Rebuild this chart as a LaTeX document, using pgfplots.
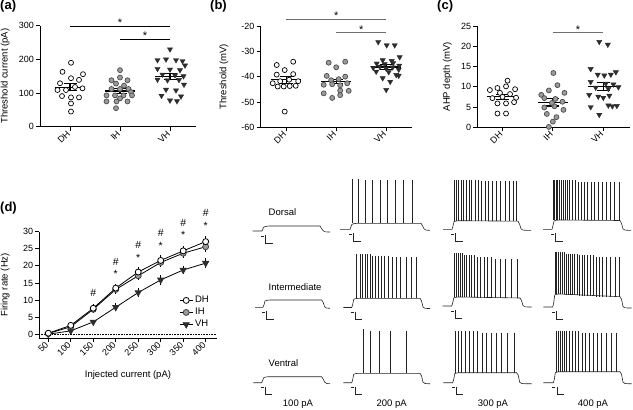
\documentclass[border=0pt]{standalone}
\usepackage{pgfplots}
\pgfplotsset{compat=1.18}
\usepackage{fontspec}
\setmainfont{Liberation Sans}
\definecolor{ihgray}{RGB}{155,155,155}
\definecolor{vhdark}{RGB}{45,45,45}
\definecolor{siggray}{RGB}{110,110,110}
\definecolor{tracecol}{RGB}{35,35,35}
\pgfplotsset{
  prism/.style={
    scale only axis,
    axis x line=bottom, axis y line=left,
    axis line style={line width=0.8pt,-},
    tick align=outside, major tick length=4pt,
    every tick/.style={line width=0.8pt,black},
    tick label style={font=\fontsize{9}{10}\selectfont, inner sep=2pt},
    label style={font=\fontsize{9.5}{11}\selectfont},
    /pgf/number format/assume math mode=true,
    clip=false,
  },
  cat/.style={xtick={0,1,2}, xticklabels={DH,IH,VH}, xticklabel style={rotate=45, anchor=east}},
  dhm/.style={only marks, mark=*, mark size=2.5pt, mark options={draw=black, fill=white, line width=0.7pt}},
  ihm/.style={only marks, mark=*, mark size=2.5pt, mark options={draw=black!70, fill=ihgray, line width=0.7pt}},
  vhm/.style={only marks, mark=triangle*, mark size=3pt, mark options={draw=vhdark, fill=vhdark, rotate=180, line width=0.4pt}},
  semline/.style={black, line width=1.1pt, unbounded coords=jump, mark=none},
  sigline/.style={line width=0.8pt, mark=none},
  spikes/.style={draw=none, mark=none, error bars/.cd, y dir=plus, y explicit, error mark=none, error bar style={draw=tracecol, line width=0.45pt}},
  steptr/.style={tracecol, line width=0.6pt, mark=none},
}
\newcommand{\sig}{\fontsize{11}{12}\selectfont *}
\begin{document}
\begin{tikzpicture}[x=1pt,y=1pt]
\useasboundingbox (0,0) rectangle (633,410);
\node[anchor=north west, inner sep=0pt, font=\fontsize{13}{14}\selectfont\bfseries] at (0,410) {(a)};
\node[anchor=north west, inner sep=0pt, font=\fontsize{13}{14}\selectfont\bfseries] at (210,410) {(b)};
\node[anchor=north west, inner sep=0pt, font=\fontsize{13}{14}\selectfont\bfseries] at (437,410) {(c)};
\node[anchor=north west, inner sep=0pt, font=\fontsize{13}{14}\selectfont\bfseries] at (0,208.3) {(d)};

% ---------------- (a)
\begin{axis}[prism, cat, at={(40pt,283.3pt)}, anchor=south west, width=156pt, height=101pt,
  xmin=-0.6, xmax=2.52, ymin=0, ymax=300, ytick={0,100,200,300},
  ylabel={Threshold current (pA)}, ylabel style={at={(axis description cs:-0.224,0.5)}, anchor=center}]
\addplot[dhm] coordinates {(0.02,190) (-0.15,163) (0.26,156) (0.02,144) (0.18,139) (-0.2,129) (0.1,118) (0.25,114) (-0.25,109) (-0.08,109) (-0.16,91) (0.02,87) (0.18,87) (0.02,69) (0.02,45)};
\addplot[ihm] coordinates {(1,168) (1,146) (0.83,138) (1.15,138) (0.92,128) (1.08,122) (0.83,112) (1.0,112) (1.17,112) (1.22,103) (0.73,93) (0.9,93) (1.07,93) (1.24,93) (1.0,84) (0.73,75) (0.93,75) (1.15,75) (0.92,55)};
\addplot[vhm] coordinates {(2.0,230) (1.75,198) (1.92,200) (2.12,198) (2.25,195) (2.30,182) (1.75,172) (2.0,170) (2.2,168) (1.85,155) (2.1,153) (2.27,150) (1.75,140) (1.95,138) (2.18,139) (2.28,125) (1.92,110) (2.12,108) (1.83,92) (2.22,90) (2.0,78) (2.14,76)};
\addplot[semline] coordinates {(-0.3,117)(0.3,117)(0,nan)(-0.13,127)(0.13,127)(0,nan)(0,127)(0,107)(0,nan)(-0.13,107)(0.13,107)};
\addplot[semline] coordinates {(0.7,106)(1.3,106)(1,nan)(0.87,114)(1.13,114)(1,nan)(1,114)(1,98)(1,nan)(0.87,98)(1.13,98)};
\addplot[semline] coordinates {(1.7,149)(2.3,149)(2,nan)(1.87,159)(2.13,159)(2,nan)(2,159)(2,139)(2,nan)(1.87,139)(2.13,139)};
\addplot[sigline, black] coordinates {(0,299)(2,299)};
\addplot[sigline, black] coordinates {(1,260)(2,260)};
\node[anchor=base, inner sep=0pt, yshift=-0.5pt] at (axis cs:1,299) {\sig};
\node[anchor=base, inner sep=0pt, yshift=-0.5pt] at (axis cs:1.5,260) {\sig};
\end{axis}

% ---------------- (b)
\begin{axis}[prism, cat, at={(260.7pt,282.7pt)}, anchor=south west, width=151pt, height=101.3pt,
  xmin=-0.51, xmax=2.51, ymin=-60, ymax=-20, ytick={-60,-50,-40,-30,-20},
  ylabel={Threshold (mV)}, ylabel style={at={(axis description cs:-0.243,0.5)}, anchor=center}]
\addplot[dhm] coordinates {(-0.19,-35.4) (0.14,-34.1) (-0.03,-37.4) (-0.19,-39.2) (0.14,-39.0) (-0.12,-41.8) (0.06,-41.2) (0.24,-41.8) (-0.27,-42.6) (-0.17,-43.9) (-0.05,-43.9) (0.07,-43.7) (0.19,-43.6) (-0.03,-53.8)};
\addplot[ihm] coordinates {(0.85,-34.5) (1.18,-34.1) (1.0,-36.3) (0.81,-39.7) (1.18,-40.0) (0.9,-41.4) (1.05,-41.0) (1.22,-42.6) (0.75,-43.2) (0.92,-43.0) (1.08,-43.4) (0.75,-46.6) (1.08,-45.5) (1.25,-45.6) (0.92,-48.4) (1.08,-47.3)};
\addplot[vhm] coordinates {(1.84,-26.3) (2.01,-27.6) (2.17,-27.6) (2.27,-32.3) (1.93,-33.5) (2.11,-33.8) (1.81,-34.8) (1.97,-35.0) (2.14,-34.6) (2.26,-35.6) (1.74,-36.5) (1.87,-36.0) (2.0,-36.8) (2.13,-36.3) (2.25,-37.2) (1.8,-38.0) (2.05,-38.2) (2.2,-39.3) (1.93,-40.6) (2.25,-39.6) (2.08,-42.0) (2.0,-45.2)};
\addplot[semline] coordinates {(-0.3,-41.3)(0.3,-41.3)(0,nan)(-0.13,-39.9)(0.13,-39.9)(0,nan)(0,-39.9)(0,-42.7)(0,nan)(-0.13,-42.7)(0.13,-42.7)};
\addplot[semline] coordinates {(0.7,-41.9)(1.3,-41.9)(1,nan)(0.87,-41.0)(1.13,-41.0)(1,nan)(1,-41.0)(1,-42.8)(1,nan)(0.87,-42.8)(1.13,-42.8)};
\addplot[semline] coordinates {(1.7,-36.2)(2.3,-36.2)(2,nan)(1.87,-35.2)(2.13,-35.2)(2,nan)(2,-35.2)(2,-37.2)(2,nan)(1.87,-37.2)(2.13,-37.2)};
\addplot[sigline, siggray] coordinates {(0,-17.2)(2,-17.2)};
\addplot[sigline, siggray] coordinates {(1,-22.7)(2,-22.7)};
\node[anchor=base, inner sep=0pt, yshift=-0.5pt] at (axis cs:1,-17.2) {\sig};
\node[anchor=base, inner sep=0pt, yshift=-0.5pt] at (axis cs:1.5,-22.7) {\sig};
\end{axis}

% ---------------- (c)
\begin{axis}[prism, cat, at={(477.3pt,282.7pt)}, anchor=south west, width=152.7pt, height=101.3pt,
  xmin=-0.5, xmax=2.53, ymin=0, ymax=25, ytick={0,5,10,15,20,25},
  ylabel={AHP depth (mV)}, ylabel style={at={(axis description cs:-0.195,0.5)}, anchor=center}]
\addplot[dhm] coordinates {(0.1,11.5) (-0.1,9.7) (0.07,10.1) (0.25,9.4) (-0.25,9.2) (-0.05,8.5) (0.15,8.2) (-0.2,7.2) (0.0,7.5) (0.27,7.3) (-0.1,5.9) (0.07,5.9) (0.23,6.2) (-0.1,3.4) (0.07,3.4)};
\addplot[ihm] coordinates {(1.01,13.4) (1.09,10.4) (0.92,9.1) (1.23,8.5) (0.77,8.0) (0.83,7.2) (1.05,7.0) (1.19,6.3) (0.83,4.9) (1.03,5.2) (1.21,4.3) (0.88,3.3) (1.07,2.5) (1.0,1.4) (0.92,0.1) (0.98,6.0)};
\addplot[vhm] coordinates {(1.92,21.1) (2.09,20.4) (1.75,14.4) (1.89,13.0) (2.02,12.8) (2.15,13.0) (2.25,13.6) (1.75,11.2) (2.05,10.8) (2.2,10.6) (1.85,9.8) (2.1,9.5) (2.3,9.9) (1.72,8.0) (1.9,7.6) (2.0,7.3) (2.12,7.8) (1.75,5.0) (2.1,5.4) (2.18,5.2) (2.27,5.3) (1.92,3.1)};
\addplot[semline] coordinates {(-0.3,7.55)(0.3,7.55)(0,nan)(-0.13,8.2)(0.13,8.2)(0,nan)(0,8.2)(0,6.9)(0,nan)(-0.13,6.9)(0.13,6.9)};
\addplot[semline] coordinates {(0.7,6.2)(1.3,6.2)(1,nan)(0.87,7.15)(1.13,7.15)(1,nan)(1,7.15)(1,5.25)(1,nan)(0.87,5.25)(1.13,5.25)};
\addplot[semline] coordinates {(1.7,10.0)(2.3,10.0)(2,nan)(1.87,11.0)(2.13,11.0)(2,nan)(2,11.0)(2,9.0)(2,nan)(1.87,9.0)(2.13,9.0)};
\addplot[sigline, siggray] coordinates {(1,23.3)(2,23.3)};
\node[anchor=base, inner sep=0pt, yshift=-0.5pt] at (axis cs:1.5,23.3) {\sig};
\end{axis}

% ---------------- (d)
\begin{axis}[prism, at={(39.3pt,72pt)}, anchor=south west, width=177.4pt, height=106.3pt,
  xmin=30, xmax=424.5, ymin=-1.1, ymax=30,
  xtick={50,100,150,200,250,300,350,400}, ytick={0,5,10,15,20,25,30},
  xticklabel style={rotate=45, anchor=east},
  xlabel={Injected current (pA)}, xlabel style={at={(axis description cs:0.5,-0.348)}, anchor=center},
  ylabel={Firing rate (Hz)}, ylabel style={at={(axis description cs:-0.193,0.5)}, anchor=center},
  reverse legend,
  legend style={draw=none, fill=none, at={(0.985,0.05)}, anchor=south east, font=\fontsize{9.5}{11}\selectfont},
  legend cell align=left,
  legend image code/.code={\draw[mark repeat=2,mark phase=2] plot coordinates {(0pt,0pt)(6.5pt,0pt)(13pt,0pt)};}]
\addplot[black, densely dotted, line width=0.6pt, forget plot] coordinates {(30,0)(424.5,0)};
\addplot[black, line width=0.8pt, mark=triangle*, mark size=3.5pt, mark options={fill=vhdark, draw=vhdark, rotate=180},
  error bars/.cd, y dir=both, y explicit, error mark=none, error bar style={line width=0.8pt}]
  coordinates {(50,0.0)+-(0,0.1) (100,1.0)+-(0,0.4) (150,3.6)+-(0,0.7) (200,7.9)+-(0,1.2) (250,12.2)+-(0,1.4) (300,15.9)+-(0,1.4) (350,18.8)+-(0,1.3) (400,20.8)+-(0,1.5)};
\addlegendentry{VH}
\addplot[black, line width=0.8pt, mark=*, mark size=3pt, mark options={fill=ihgray, draw=black!75},
  error bars/.cd, y dir=both, y explicit, error mark=none, error bar style={line width=0.8pt}]
  coordinates {(50,0.2)+-(0,0.2) (100,2.2)+-(0,0.5) (150,7.3)+-(0,1.1) (200,13.1)+-(0,1.2) (250,17.1)+-(0,1.3) (300,21.0)+-(0,1.3) (350,23.7)+-(0,1.4) (400,25.6)+-(0,1.4)};
\addlegendentry{IH}
\addplot[black, line width=0.8pt, mark=*, mark size=3pt, mark options={fill=white, draw=black},
  error bars/.cd, y dir=both, y explicit, error mark=none, error bar style={line width=0.8pt}]
  coordinates {(50,0.3)+-(0,0.3) (100,2.6)+-(0,0.6) (150,7.6)+-(0,1.2) (200,13.5)+-(0,1.3) (250,18.2)+-(0,1.5) (300,21.6)+-(0,1.5) (350,24.4)+-(0,1.5) (400,27.1)+-(0,1.6)};
\addlegendentry{DH}
\node[font=\fontsize{10.5}{12}\selectfont, inner sep=0pt] at (axis cs:150,12.1) {\#};
\node[font=\fontsize{10.5}{12}\selectfont, inner sep=0pt] at (axis cs:200,21.2) {\#};
\node[font=\fontsize{10.5}{12}\selectfont, inner sep=0pt] at (axis cs:250,26.1) {\#};
\node[font=\fontsize{10.5}{12}\selectfont, inner sep=0pt] at (axis cs:300,29.5) {\#};
\node[font=\fontsize{10.5}{12}\selectfont, inner sep=0pt] at (axis cs:350,32.6) {\#};
\node[font=\fontsize{10.5}{12}\selectfont, inner sep=0pt] at (axis cs:400,35.4) {\#};
\node[font=\fontsize{10.5}{12}\selectfont, inner sep=0pt, yshift=-2.2pt] at (axis cs:200,18.3) {*};
\node[font=\fontsize{10.5}{12}\selectfont, inner sep=0pt, yshift=-2.2pt] at (axis cs:250,22.9) {*};
\node[font=\fontsize{10.5}{12}\selectfont, inner sep=0pt, yshift=-2.2pt] at (axis cs:300,26.4) {*};
\node[font=\fontsize{10.5}{12}\selectfont, inner sep=0pt, yshift=-2.2pt] at (axis cs:350,29.7) {*};
\node[font=\fontsize{10.5}{12}\selectfont, inner sep=0pt, yshift=-2.2pt] at (axis cs:400,32.2) {*};
\end{axis}

% ---------------- traces (pixel coordinates)
\begin{axis}[scale only axis, hide axis, clip=false, at={(230pt,0pt)}, anchor=south west, width=403pt, height=270pt,
  xmin=230, xmax=633, ymin=140, ymax=410, y dir=reverse]
% voltage steps
\addplot[steptr] coordinates {(252.7,231)(262,231)(263,228.5)(264,227)(266,226.3)(269,226)(320,226)(321.5,228.5)(323,230.5)(325,231.8)(328,232)(330,232)};
\addplot[steptr] coordinates {(340,229.3)(350,229.3)(351,226.8)(352,224.3)(354,223.6)(357,223.3)(421,223.3)(422.5,225.8)(424,228.8)(426,230.1)(429,230.3)(430,230.3)};
\addplot[steptr] coordinates {(443,229.3)(452,229.3)(453,226)(454,221.7)(456,221)(459,220.7)(518,221.2)(519.5,224)(521,228.8)(523,230.1)(526,230.3)(531,230.3)};
\addplot[steptr] coordinates {(543,229.3)(552,229.3)(553,225.5)(554,221)(556,220.3)(559,220)(620,220.5)(621.5,223.5)(623,228.8)(625,230.1)(628,230.3)(631,230.3)};
\addplot[steptr] coordinates {(255,307.3)(263,307.3)(264,304.8)(265,301)(267,300.3)(270,300)(321.7,300)(323.2,302.5)(324.7,306.8)(326.7,308.1)(329.7,308.3)(330,308.3)};
\addplot[steptr] coordinates {(343.3,307.5)(351.7,307.5)(352.7,304.5)(353.7,299.3)(355.7,298.6)(358.7,298.3)(420,298.3)(421.5,300.8)(423,307)(425,308.3)(428,308.5)(430,308.5)};
\addplot[steptr] coordinates {(442.7,306)(451.7,306)(452.7,303)(453.7,298)(455.7,297.3)(458.7,297)(520,298)(521.5,300.5)(523,305.5)(525,306.8)(528,307)(531.7,307)};
\addplot[steptr] coordinates {(543.3,307)(552.7,307)(553.7,303)(554.7,295)(556.7,294.3)(559.7,294)(620,296.7)(621.5,299.2)(623,306.5)(625,307.8)(628,308)(631.7,308)};
\addplot[steptr] coordinates {(253.3,382.7)(261.7,382.7)(262.7,380.2)(263.7,377.7)(265.7,377)(268.7,376.7)(321.7,376.7)(323.2,379.2)(324.7,382.2)(326.7,383.5)(329.7,383.7)(330,383.7)};
\addplot[steptr] coordinates {(343.3,382.7)(351.7,382.7)(352.7,379.7)(353.7,374.3)(355.7,373.6)(358.7,373.3)(420,373.3)(421.5,375.8)(423,382.2)(425,383.5)(428,383.7)(430,383.7)};
\addplot[steptr] coordinates {(443.3,382.7)(452.7,382.7)(453.7,379.5)(454.7,373.7)(456.7,373)(459.7,372.7)(516.7,372.7)(518.2,375.2)(519.7,382.2)(521.7,383.5)(524.7,383.7)(531.7,383.7)};
\addplot[steptr] coordinates {(543.3,382.7)(553.3,382.7)(554.3,379.5)(555.3,372.7)(557.3,372)(560.3,371.7)(620,371.7)(621.5,374.2)(623,382.2)(625,383.5)(628,383.7)(631.7,383.7)};
% current step icons
\addplot[tracecol, line width=0.5pt, unbounded coords=jump] coordinates {
(261,236)(264,236)(264,nan)(265.5,235)(265.5,243)(272.5,243)(272.5,nan)
(349,234.3)(352,234.3)(352,nan)(353.5,233.3)(353.5,241.3)(360.5,241.3)(360.5,nan)
(451,234.3)(454,234.3)(454,nan)(455.5,233.3)(455.5,241.3)(462.5,241.3)(462.5,nan)
(551,234.3)(554,234.3)(554,nan)(555.5,233.3)(555.5,241.3)(562.5,241.3)(562.5,nan)
(262,312.3)(265,312.3)(265,nan)(266.5,311.3)(266.5,319.3)(273.5,319.3)(273.5,nan)
(350.7,312.5)(353.7,312.5)(353.7,nan)(355.2,311.5)(355.2,319.5)(362.2,319.5)(362.2,nan)
(450.7,311)(453.7,311)(453.7,nan)(455.2,310)(455.2,318)(462.2,318)(462.2,nan)
(551.7,312)(554.7,312)(554.7,nan)(556.2,311)(556.2,319)(563.2,319)(563.2,nan)
(260.7,387.7)(263.7,387.7)(263.7,nan)(265.2,386.7)(265.2,394.7)(272.2,394.7)(272.2,nan)
(350.7,387.7)(353.7,387.7)(353.7,nan)(355.2,386.7)(355.2,394.7)(362.2,394.7)(362.2,nan)
(451.7,387.7)(454.7,387.7)(454.7,nan)(456.2,386.7)(456.2,394.7)(463.2,394.7)(463.2,nan)
(552.3,387.7)(555.3,387.7)(555.3,nan)(556.8,386.7)(556.8,394.7)(563.8,394.7)};
% spikes: Dorsal
\addplot[spikes] coordinates {(352.3,179.3)+-(0,44) (358.3,179.3)+-(0,44) (365,179.5)+-(0,43.8) (372.3,179.5)+-(0,43.8) (380,179.5)+-(0,43.8) (387.3,179.5)+-(0,43.8) (395,179.8)+-(0,43.5) (403.3,179.8)+-(0,43.5) (412.3,180)+-(0,43.3)};
\addplot[spikes] coordinates {(454,180)+-(0,40.7) (456,180)+-(0,40.7) (458.3,180)+-(0,40.7) (461,180)+-(0,40.7) (463.7,180)+-(0,40.7) (466.3,180)+-(0,40.7) (469,180)+-(0,40.7) (471.7,180)+-(0,40.7) (475,180)+-(0,40.7) (478.3,180)+-(0,40.7)
 (481.7,181)+-(0,39.7) (485,181)+-(0,39.7) (488.3,181)+-(0,39.7) (492.7,181)+-(0,39.7) (496.7,181)+-(0,39.7) (500.7,181)+-(0,39.7) (505,181)+-(0,39.7) (509.3,181)+-(0,39.7) (513.3,181)+-(0,39.7) (516.7,181)+-(0,39.7)};
\addplot[spikes] coordinates {(553,180)+-(0,40) (554.5,180)+-(0,40) (556,180)+-(0,40) (557.5,180)+-(0,40) (559,180)+-(0,40) (561,180)+-(0,40) (563,180)+-(0,40) (565,180)+-(0,40) (567,180)+-(0,40) (569.5,180)+-(0,40) (572,180)+-(0,40) (575,180)+-(0,40)
 (578,182)+-(0,38) (581,182)+-(0,38) (584,182)+-(0,38) (587.5,182)+-(0,38) (591,182)+-(0,38) (594.5,182)+-(0,38) (598,182)+-(0,38) (602,182)+-(0,38) (606,182)+-(0,38) (610,182)+-(0,38) (614.5,182)+-(0,38) (619,182)+-(0,38)};
% spikes: Intermediate
\addplot[spikes] coordinates {(356.7,254)+-(0,44.3) (360,254)+-(0,44.3) (362.7,254)+-(0,44.3) (365,254)+-(0,44.3) (367.3,254)+-(0,44.3) (370,254)+-(0,44.3)
 (372.7,255.5)+-(0,42.8) (375.3,255.5)+-(0,42.8) (378.3,255.5)+-(0,42.8) (381.7,255.5)+-(0,42.8) (384.7,255.5)+-(0,42.8) (388.3,255.5)+-(0,42.8)
 (392.3,257)+-(0,41.3) (396,257)+-(0,41.3) (400.7,257)+-(0,41.3) (406,257)+-(0,41.3) (411.7,257)+-(0,41.3) (416,257)+-(0,41.3)};
\addplot[spikes] coordinates {(454,253.3)+-(0,44) (456,253.3)+-(0,44) (458,253.3)+-(0,44) (460,253.3)+-(0,44) (462,253.3)+-(0,44)
 (464.3,255)+-(0,42.3) (466.7,255)+-(0,42.3) (469,255)+-(0,42.3) (471.7,255)+-(0,42.3) (474.3,255)+-(0,42.3)
 (477.3,257)+-(0,40.5) (480.7,257)+-(0,40.5) (484,257)+-(0,40.5) (487.7,257)+-(0,40.5) (491.7,257)+-(0,40.5)
 (495.7,259)+-(0,39) (500,259)+-(0,39) (505,259)+-(0,39) (511.7,259)+-(0,39) (517.3,259)+-(0,39)};
\addplot[spikes] coordinates {(555,251.7)+-(0,42.5) (556.7,251.7)+-(0,42.5) (558.3,251.7)+-(0,42.5) (560,251.7)+-(0,42.5) (562,251.7)+-(0,42.5) (564,251.7)+-(0,42.5)
 (566,253.5)+-(0,41.2) (568,253.5)+-(0,41.2) (570,253.5)+-(0,41.2) (572.3,253.5)+-(0,41.2) (574.7,253.5)+-(0,41.2) (577,253.5)+-(0,41.2)
 (579.3,255)+-(0,40.5) (582,255)+-(0,40.5) (584.7,255)+-(0,40.5) (587.3,255)+-(0,40.5) (590,255)+-(0,40.5) (593,255)+-(0,40.5)
 (596,256.7)+-(0,39.8) (599.3,256.7)+-(0,39.8) (602.7,256.7)+-(0,39.8) (606.7,256.7)+-(0,39.8) (610.7,256.7)+-(0,39.8) (615,256.7)+-(0,39.8) (619.3,256.7)+-(0,39.8)};
% spikes: Ventral
\addplot[spikes] coordinates {(363.3,329.3)+-(0,44) (370,330.7)+-(0,42.6) (379,330.7)+-(0,42.6) (390,330.7)+-(0,42.6) (406.7,330.7)+-(0,42.6)};
\addplot[spikes] coordinates {(455,331)+-(0,41.7) (458.3,331)+-(0,41.7) (461.7,331)+-(0,41.7) (465,331)+-(0,41.7) (469.3,331)+-(0,41.7) (473.3,331)+-(0,41.7) (477.7,331)+-(0,41.7)
 (482.3,332.5)+-(0,40.2) (486.7,332.5)+-(0,40.2) (491.7,332.5)+-(0,40.2) (496.7,332.5)+-(0,40.2) (501.7,332.5)+-(0,40.2) (507.7,332.5)+-(0,40.2) (514,332.5)+-(0,40.2)};
\addplot[spikes] coordinates {(556,330.7)+-(0,41) (558,330.7)+-(0,41) (560,330.7)+-(0,41) (562,330.7)+-(0,41) (564.3,330.7)+-(0,41) (566.7,330.7)+-(0,41) (569.3,330.7)+-(0,41) (572.3,330.7)+-(0,41) (575.3,330.7)+-(0,41) (578.7,330.7)+-(0,41)
 (582,333)+-(0,38.7) (585.7,333)+-(0,38.7) (589.3,333)+-(0,38.7) (593.3,333)+-(0,38.7) (597.3,333)+-(0,38.7) (601.7,333)+-(0,38.7) (606.7,333)+-(0,38.7) (611.7,333)+-(0,38.7) (616.7,333)+-(0,38.7)};
% labels
\node[anchor=west, inner sep=0pt, font=\fontsize{9.5}{11}\selectfont] at (axis cs:268.5,212.5) {Dorsal};
\node[anchor=west, inner sep=0pt, font=\fontsize{9.5}{11}\selectfont] at (axis cs:268.5,287.5) {Intermediate};
\node[anchor=west, inner sep=0pt, font=\fontsize{9.5}{11}\selectfont] at (axis cs:268.5,363) {Ventral};
\node[inner sep=0pt, font=\fontsize{9.5}{11}\selectfont] at (axis cs:298,404) {100 pA};
\node[inner sep=0pt, font=\fontsize{9.5}{11}\selectfont] at (axis cs:391.7,404) {200 pA};
\node[inner sep=0pt, font=\fontsize{9.5}{11}\selectfont] at (axis cs:493,404) {300 pA};
\node[inner sep=0pt, font=\fontsize{9.5}{11}\selectfont] at (axis cs:593,404) {400 pA};
\end{axis}
\end{tikzpicture}
\end{document}
